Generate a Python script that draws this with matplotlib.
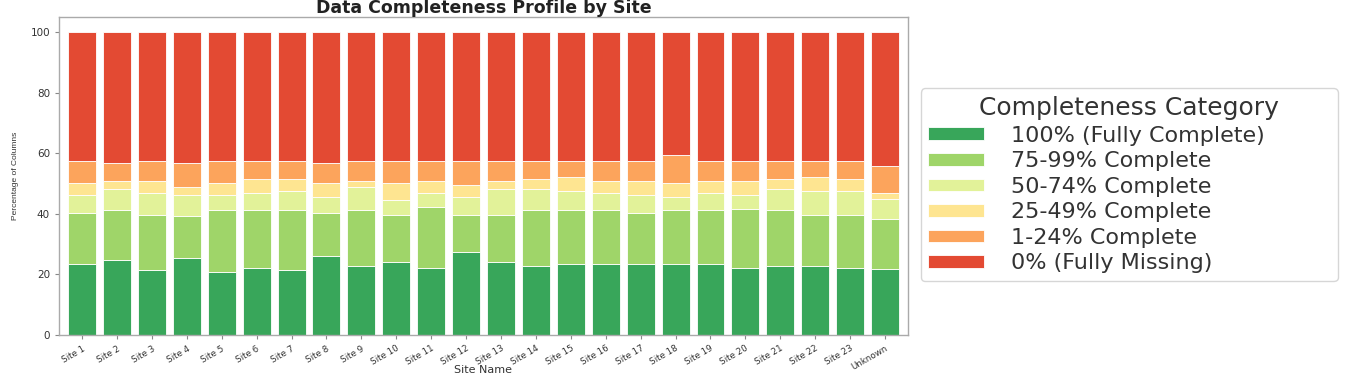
import matplotlib
matplotlib.use("Agg")
import matplotlib.pyplot as plt
import numpy as np

sites = [f"Site {i}" for i in range(1, 24)] + ["Unknown"]

# cumulative tops (percent)
top_full = [23.4, 24.7, 21.4, 25.4, 20.8, 22.1, 21.4, 26.0, 22.7, 24.1, 22.1, 27.4,
            24.1, 22.7, 23.4, 23.4, 23.4, 23.4, 23.4, 22.1, 22.7, 22.7, 22.1, 21.9]
top_75 = [40.4, 41.2, 39.8, 39.2, 41.2, 41.2, 41.2, 40.4, 41.2, 39.8, 42.4, 39.8,
          39.8, 41.2, 41.2, 41.2, 40.4, 41.2, 41.2, 41.8, 41.2, 39.8, 39.8, 38.5]
top_50 = [46.4, 48.3, 47.0, 46.4, 46.4, 47.0, 47.7, 45.6, 49.0, 44.5, 46.9, 45.6,
          48.3, 48.3, 47.7, 47.0, 46.4, 45.6, 47.0, 46.4, 48.3, 47.7, 47.7, 45.0]
top_25 = [50.3, 51.0, 51.0, 49.0, 50.3, 51.7, 51.7, 50.3, 51.0, 50.3, 51.0, 49.7,
          51.0, 51.7, 52.3, 51.0, 51.0, 50.3, 51.0, 51.0, 51.7, 52.3, 51.7, 46.8]
top_1 = [57.5, 56.8, 57.5, 56.8, 57.5, 57.5, 57.5, 56.8, 57.5, 57.5, 57.5, 57.5,
         57.5, 57.5, 57.5, 57.5, 57.5, 59.5, 57.5, 57.5, 57.5, 57.5, 57.5, 56.0]

categories = ["100% (Fully Complete)", "75-99% Complete", "50-74% Complete",
              "25-49% Complete", "1-24% Complete", "0% (Fully Missing)"]
colors = ["#38a65a", "#9fd569", "#e2f299", "#fee591", "#fca45c", "#e34a33"]

tops = [np.array(top_full), np.array(top_75), np.array(top_50),
        np.array(top_25), np.array(top_1), np.full(len(sites), 100.0)]
segments = [tops[0]] + [tops[i] - tops[i - 1] for i in range(1, 6)]

fig = plt.figure(figsize=(13.63, 3.77), dpi=100)
ax = fig.add_axes([0.0433, 0.1114, 0.6227, 0.8426])

x = np.arange(len(sites))
bottom = np.zeros(len(sites))
for seg, lab, col in zip(segments, categories, colors):
    ax.bar(x, seg, bottom=bottom, width=0.8, color=col, edgecolor="white",
           linewidth=0.6, label=lab)
    bottom = bottom + seg

ax.set_xlim(-0.66, 23.65)
ax.set_ylim(0, 105)
ax.set_yticks([0, 20, 40, 60, 80, 100])
ax.set_xticks(x)
ax.set_xticklabels(sites, rotation=30, ha="right", fontsize=6.3, color="#333333",
                   rotation_mode="anchor")
ax.tick_params(axis="y", labelsize=7.5, colors="#333333")
ax.tick_params(axis="both", color="#888888", length=3)
for sp in ax.spines.values():
    sp.set_color("#aaaaaa")
    sp.set_linewidth(1.0)

ax.set_title("Data Completeness Profile by Site", fontsize=12.5, fontweight="bold",
             color="#222222", pad=3)
ax.set_xlabel("Site Name", fontsize=8, color="#333333")
ax.xaxis.set_label_coords(0.5, -0.095)
ax.set_ylabel("Percentage of Columns", fontsize=6, color="#333333",
              family=["Liberation Sans", "DejaVu Sans"])
ax.yaxis.set_label_coords(-0.047, 0.5)

leg = ax.legend(title="Completeness Category", loc="center left",
                bbox_to_anchor=(0.6755, 0.25, 0.306, 0.52), bbox_transform=fig.transFigure,
                mode="expand", fontsize=16, title_fontsize=18, frameon=True,
                handlelength=2.5, handleheight=0.5, handletextpad=1.2,
                labelspacing=0.25, borderpad=0.35, borderaxespad=0)
leg.get_frame().set_edgecolor("#cccccc")
for t in leg.get_texts():
    t.set_color("#333333")
leg.get_title().set_color("#333333")

fig.savefig("out.png", dpi=100)
